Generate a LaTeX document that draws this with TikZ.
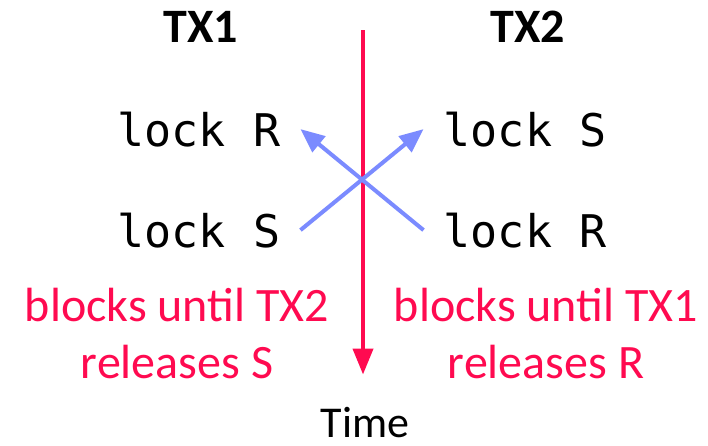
\documentclass[tikz,border=0pt]{standalone}
\usepackage{fontspec}
\setmainfont{Carlito}
\setmonofont{DejaVu Sans Mono}
\usetikzlibrary{arrows.meta}
\definecolor{deadred}{HTML}{FF0A50}
\definecolor{lockblue}{HTML}{7B8BFF}

\begin{document}
\begin{tikzpicture}[
    x=1pt, y=-1pt,
    txname/.style={anchor=base, font=\fontsize{48}{58}\selectfont\bfseries}, % TX headers
    lockop/.style={anchor=base, inner xsep=20pt, font=\fontsize{45}{54}\selectfont\ttfamily}, % lock statements
    waitnote/.style={anchor=base, align=center, text=deadred, font=\fontsize{48}{57}\selectfont}, % red notes
    lockarrow/.style={draw=lockblue, line width=4pt, -{Triangle[length=24pt, width=20pt]}},
    timeline/.style={draw=deadred, line width=4pt, -{Triangle[length=26pt, width=20pt]}}
]
    \useasboundingbox (0,0) rectangle (708,445);

    % Transactions
    \node[txname] (tx1) at (201,42) {TX1};
    \node[txname] (tx2) at (528,42) {TX2};

    % Lock statements
    \node[lockop] (rL) at (199,146) {lock R};
    \node[lockop] (sL) at (199,247) {lock S};
    \node[lockop] (sR) at (525,146) {lock S};
    \node[lockop] (rR) at (525,247) {lock R};

    % Notes (base = last line)
    \node[waitnote] (waitL) at (177,378) {blocks until TX2\\releases S};
    \node[waitnote] (waitR) at (546,378) {blocks until TX1\\releases R};

    % Time axis
    \node[anchor=base, inner sep=0pt, font=\fontsize{44}{52}\selectfont] (time) at (365,437) {Time};
    \coordinate (start) at (363,30);
    \draw[timeline, shorten >=32pt] (start) -- (start |- time.north);

    % Waits
    \draw[lockarrow] (sL.east) -- (sR.west);
    \draw[lockarrow] (rR.west) -- (rL.east);

\end{tikzpicture}
\end{document}
